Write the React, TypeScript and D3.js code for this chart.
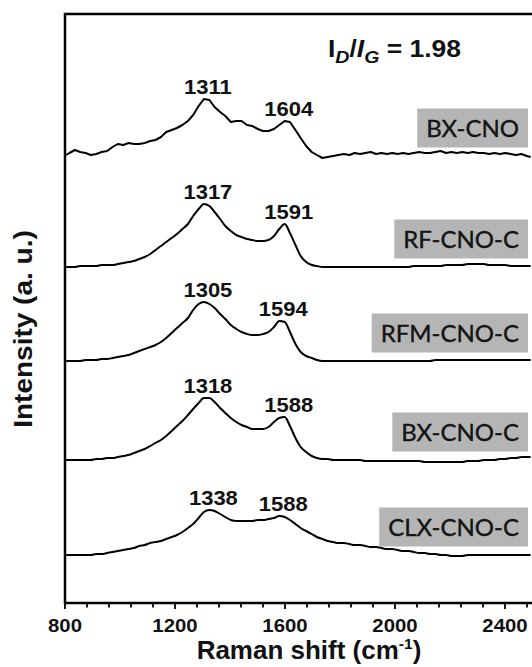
import React, { useEffect, useRef } from 'react';
import * as d3 from 'd3';

// Raman shift sampling points (cm-1)
const shift = [
  804, 816, 836, 855, 875, 894, 914, 933, 953, 973, 992,
  1012, 1031, 1051, 1070, 1090, 1110, 1129, 1149, 1168, 1188,
  1207, 1227, 1247, 1266, 1286, 1305, 1325, 1344, 1364, 1383,
  1403, 1423, 1442, 1462, 1481, 1501, 1520, 1540, 1560, 1579,
  1599, 1618, 1638, 1657, 1677, 1697, 1716, 1736, 1755, 1775,
  1794, 1814, 1834, 1853, 1873, 1892, 1912, 1931, 1951, 1971,
  1990, 2010, 2029, 2049, 2068, 2088, 2108, 2127, 2147, 2166,
  2186, 2205, 2225, 2245, 2264, 2284, 2303, 2323, 2342, 2362,
  2381, 2401, 2421, 2440, 2460, 2479, 2493,
];

// intensities above each trace's own baseline (a. u.)
const bxCno = [
  1, 3, 6, 4, 3, 1, 2, 4, 5, 9, 12,
  11, 13, 12, 12, 13, 15, 16, 19, 24, 26,
  28, 31, 35, 41, 50, 57, 56, 49, 44, 40,
  34, 35, 35, 31, 30, 27, 25, 25, 27, 31,
  35, 34, 26, 18, 10, 4, 1, -2, -1, 0,
  1, 2, 1, 3, 2, 3, 4, 2, 3, 2,
  3, 2, 3, 2, 3, 4, 3, 3, 4, 5,
  3, 4, 3, 4, 3, 4, 3, 3, 2, 3,
  2, 3, 2, 1, 2, 0, -1,
];

const rfCnoC = [
  0, 0, 0, 1, 1, 1, 1, 2, 2, 2, 3,
  4, 5, 6, 8, 10, 13, 17, 21, 25, 29,
  33, 38, 43, 51, 58, 63, 61, 55, 48, 41,
  36, 32, 30, 28, 27, 26, 26, 27, 31, 38,
  43, 34, 22, 11, 5, 2, 1, 0, 0, 0,
  0, 0, 0, 0, 0, 0, 0, 0, 0, 0,
  0, 0, 0, 0, 1, 1, 1, 1, 1, 1,
  2, 2, 2, 2, 3, 3, 3, 3, 2, 2,
  2, 2, 1, 1, 1, 1, 1,
];

const rfmCnoC = [
  0, 0, 0, 0, 1, 1, 1, 2, 2, 3, 4,
  5, 6, 8, 10, 12, 14, 16, 19, 23, 28,
  33, 38, 43, 51, 57, 59, 57, 53, 47, 42,
  36, 32, 29, 27, 26, 26, 27, 29, 34, 40,
  39, 29, 17, 9, 5, 3, 1, 0, 0, 0,
  0, 0, 0, 0, 0, 0, 0, 0, 0, 0,
  0, 0, 0, 0, 0, 0, 0, 0, 1, 1,
  1, 1, 1, 1, 1, 1, 1, 1, 1, 1,
  1, 1, 1, 1, 1, 1, 1,
];

const bxCnoC = [
  0, 0, 0, 0, 0, 0, 1, 1, 2, 2, 3,
  4, 5, 7, 9, 11, 14, 17, 20, 24, 29,
  34, 39, 45, 51, 57, 62, 62, 58, 52, 47,
  42, 38, 35, 33, 31, 31, 31, 33, 38, 42,
  43, 34, 22, 13, 8, 4, 2, 1, 1, 0,
  0, 0, 0, 0, 0, -1, -1, -1, -1, -1,
  -1, -1, -1, -1, -1, -1, -2, -2, -2, -2,
  -2, -2, -2, -2, -1, -1, -1, 0, 0, 0,
  1, 1, 2, 2, 3, 3, 3,
];

const clxCnoC = [
  0, 0, 0, 0, 0, 0, 1, 1, 2, 3, 4,
  5, 6, 7, 9, 10, 12, 13, 14, 16, 18,
  20, 23, 27, 31, 37, 43, 45, 44, 41, 38,
  35, 34, 34, 34, 34, 35, 35, 36, 37, 39,
  38, 35, 31, 27, 24, 21, 18, 16, 14, 13,
  12, 12, 11, 10, 10, 9, 8, 8, 7, 6,
  6, 5, 4, 4, 3, 2, 2, 1, 1, 0,
  0, -1, -1, -1, 0, 0, 0, 0, 0, 0,
  0, 0, 0, 0, 0, 0, 0,
];

const sampleNames = ['BX-CNO', 'RF-CNO-C', 'RFM-CNO-C', 'BX-CNO-C', 'CLX-CNO-C'];
const sampleValues = [bxCno, rfCnoC, rfmCnoC, bxCnoC, clxCnoC];
// vertical stacking offsets (a. u.)
const offsets = [447, 336, 242, 143, 48];
// D and G band positions written above each trace
const peakLabels = [
  [1311, 1604],
  [1317, 1591],
  [1305, 1594],
  [1318, 1588],
  [1338, 1588],
];

const xTicks = d3.range(800, 2481, 80);
const xLabels = [800, 1200, 1600, 2000, 2400];
const ratioValue = '1.98';

const boldFont = '"Liberation Sans", Arial, sans-serif';
// the original figure is a bit wider than Arial's proportions
const stretch = 1.1;

const App = () => {
  const svgRef = useRef<SVGSVGElement>(null);

  useEffect(() => {
    const svg = d3.select(svgRef.current);
    svg.selectAll('*').remove();

    const left = 65, top = 14, bottom = 603, right = 532.5;

    const x = d3.scaleLinear().domain([800, 2500]).range([left, right]);
    const y = d3.scaleLinear().domain([0, 589]).range([bottom, top]);

    const boldText = (px: number, py: number, size: number, sx: number, anchor = 'middle') =>
      svg.append('text')
        .attr('transform', `translate(${px},${py}) scale(${sx},1)`)
        .attr('text-anchor', anchor)
        .attr('font-family', boldFont)
        .attr('font-weight', 'bold')
        .attr('font-size', size)
        .attr('fill', '#111');

    svg.append('defs').append('clipPath')
      .attr('id', 'plotClip')
      .append('rect')
      .attr('x', left)
      .attr('y', top)
      .attr('width', 540 - left)
      .attr('height', bottom - top);

    // Spectra
    const plot = svg.append('g').attr('clip-path', 'url(#plotClip)');
    sampleValues.forEach((vals, i) => {
      const pts = shift.map((s, k) => [s, vals[k] + offsets[i]]);
      const line = d3.line<number[]>()
        .curve(i === 0 ? d3.curveLinear : d3.curveMonotoneX)
        .x(d => x(d[0]))
        .y(d => y(d[1]));
      plot.append('path')
        .datum(pts)
        .attr('fill', 'none')
        .attr('stroke', '#000')
        .attr('stroke-width', 2)
        .attr('stroke-linejoin', 'round')
        .attr('d', line);
    });

    // Peak position labels
    sampleValues.forEach((vals, i) => {
      peakLabels[i].forEach(p => {
        let best = -Infinity, at = p;
        shift.forEach((s, k) => {
          if (Math.abs(s - p) < 45 && vals[k] > best) { best = vals[k]; at = s; }
        });
        boldText(x(at) + 4, y(offsets[i] + best) - 5, 20, stretch).text(p);
      });
    });

    // Sample name tags
    sampleNames.forEach((name, i) => {
      const g = svg.append('g');
      const cy = y(offsets[i] + 28);
      const txt = g.append('text')
        .attr('y', cy + 8.5)
        .attr('font-family', 'Lato, "Open Sans", sans-serif')
        .attr('font-size', 24)
        .attr('fill', '#141414')
        .attr('stroke', '#141414')
        .attr('stroke-width', 0.4)
        .text(name);
      const w = (txt.node() as SVGTextElement).getComputedTextLength();
      const boxRight = 528;
      const boxW = w + 18;
      g.insert('rect', 'text')
        .attr('x', boxRight - boxW)
        .attr('y', cy - 19.5)
        .attr('width', boxW)
        .attr('height', 39)
        .attr('fill', '#b5b5b5');
      txt.attr('x', boxRight - boxW / 2).attr('text-anchor', 'middle');
    });

    // X axis ticks
    svg.append('g')
      .selectAll('line')
      .data(xTicks)
      .join('line')
      .attr('x1', d => x(d))
      .attr('x2', d => x(d))
      .attr('y1', bottom)
      .attr('y2', d => bottom + (d % 400 === 0 ? 6 : 4.5))
      .attr('stroke', '#000')
      .attr('stroke-width', 1.8);

    xLabels.forEach(v => {
      boldText(x(v), 632, 18.5, stretch).text(v);
    });

    // Frame
    svg.append('rect')
      .attr('x', left)
      .attr('y', top)
      .attr('width', 480)
      .attr('height', bottom - top)
      .attr('fill', 'none')
      .attr('stroke', '#000')
      .attr('stroke-width', 2.5);

    // Axis titles
    const xt = boldText(309, 659, 25, 1.04);
    xt.append('tspan').text('Raman shift (cm');
    xt.append('tspan').attr('font-size', 15).attr('dy', -10).text('-1');
    xt.append('tspan').attr('dy', 10).text(')');

    svg.append('text')
      .attr('transform', `translate(32,329) rotate(-90) scale(1.12,1)`)
      .attr('text-anchor', 'middle')
      .attr('font-family', boldFont)
      .attr('font-weight', 'bold')
      .attr('font-size', 25)
      .attr('fill', '#111')
      .text('Intensity (a. u.)');

    // ID/IG ratio annotation
    const r = boldText(328, 57, 23, 1.15, 'start');
    r.append('tspan').text('I');
    r.append('tspan').attr('font-size', 17).attr('font-style', 'italic').attr('dy', 6).text('D');
    r.append('tspan').attr('dy', -6).text('/');
    r.append('tspan').attr('font-style', 'italic').text('I');
    r.append('tspan').attr('font-size', 17).attr('font-style', 'italic').attr('dy', 6).text('G');
    r.append('tspan').attr('dy', -6).text(` = ${ratioValue}`);
  }, []);

  return (
    <svg
      ref={svgRef}
      width={532}
      height={667}
      style={{ position: 'absolute', left: 0, top: 0, background: '#fff' }}
    />
  );
};

export default App;
